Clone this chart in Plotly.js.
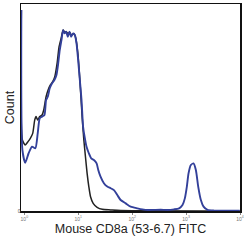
<!DOCTYPE html>
<html><head><meta charset="utf-8">
<script src="https://cdn.plot.ly/plotly-3.0.1.min.js"></script>
<style>html,body{margin:0;padding:0;background:#fff;}#chart{width:250px;height:243px;}</style>
</head><body><div id="chart"></div>
<script>
// Isotype control (black)
const isoFITC = [0.88,0.92,1.04,1.17,1.29,1.43,1.56,1.65,1.77,1.93,2.13,2.29,2.53,2.76,3.04,3.36,3.67,4.05,4.41,4.81,5.24,5.55,5.96,6.40,6.97,7.50,8.28,9.01,9.83,10.4,11.0,11.8,12.7,13.6,14.6,15.7,16.9,18.9,22.4,27.9,39.8,61.1,9900];
const isoCount = [97.1,34.3,31.9,33.5,35.1,37.5,44.0,45.6,44.0,45.6,46.4,48.8,55.2,58.5,60.9,62.5,64.9,71.3,79.4,83.4,87.4,86.6,86.6,85.8,86.2,85.0,85.8,83.4,76.2,68.1,58.5,45.6,34.3,26.2,18.2,11.8,6.9,3.7,1.8,0.8,0.5,0.2,0];
// CD8a stained (blue)
const cd8FITC = [0.88,0.92,1.04,1.20,1.39,1.60,1.77,1.93,2.13,2.36,2.53,2.72,2.96,3.27,3.61,3.94,4.17,4.54,4.88,5.24,5.55,5.96,6.40,6.87,7.38,8.04,8.64,9.28,9.96,10.7,11.5,12.3,13.1,14.2,15.7,17.4,19.5,21.9,23.5,25.9,29.9,34.5,39.8,45.9,53.0,61.1,75.7,93.8,125,155,192,339,451,600,743,858,948,1033,1110,1225,1374,1518,1678,1880,2109,2503,3327,9900];
const cd8Count = [97.1,29.5,23.3,27.9,31.1,30.3,37.5,44.8,45.6,46.4,53.6,55.2,59.3,61.7,63.3,65.7,69.7,77.8,82.6,87.4,85.8,86.6,84.2,86.6,84.2,85.8,85.0,81.0,72.9,63.3,53.6,40.7,35.9,31.1,27.9,25.4,24.6,23.0,19.8,16.6,13.4,11.8,11.0,10.1,7.7,5.3,3.7,2.1,1.3,0.8,0.5,0.6,0.5,0.8,1.3,2.9,6.1,11.8,18.2,22.2,23.0,19.8,11.8,5.3,2.1,0.5,0.2,0.2];
const xTickVals = [1,10,100,1000,10000];
const xTickText = ['10<sup>0</sup>','10<sup>1</sup>','10<sup>2</sup>','10<sup>3</sup>','10<sup>4</sup>'];

const traces = [
  {x: isoFITC, y: isoCount, type:'scatter', mode:'lines', line:{color:'#222222', width:1.5, shape:'spline', smoothing:0.6}, hoverinfo:'skip'},
  {x: cd8FITC, y: cd8Count, type:'scatter', mode:'lines', line:{color:'#33409a', width:1.9, shape:'spline', smoothing:0.6}, hoverinfo:'skip'}
];
const layout = {
  width:250, height:243,
  margin:{l:21, r:10, t:4, b:32},
  paper_bgcolor:'#fff', plot_bgcolor:'#fff',
  showlegend:false,
  font:{family:'Liberation Sans, Arial, sans-serif', color:'#222'},
  xaxis:{type:'log', range:[-0.062, 4.0], showgrid:false, zeroline:false,
    showline:true, mirror:true, linecolor:'#111', linewidth:1.5,
    ticks:'outside', ticklen:2, tickcolor:'#666', tickwidth:0.8,
    tickvals:xTickVals, ticktext:xTickText, tickfont:{size:5, color:'#777'},
    title:{text:'Mouse CD8a (53-6.7) FITC', font:{size:12.5, color:'#222'}, standoff:3}},
  yaxis:{range:[0,100], showgrid:false, zeroline:false,
    showline:true, mirror:true, linecolor:'#111', linewidth:1.5,
    ticks:'', tickvals:[0], ticktext:['0'], tickfont:{size:5, color:'#555'}, ticklabelstandoff:-2,
    title:{text:'Count', font:{size:12.5, color:'#222'}, standoff:0}}
};
Plotly.newPlot('chart', traces, layout, {staticPlot:true, displayModeBar:false});
</script>
</body></html>
